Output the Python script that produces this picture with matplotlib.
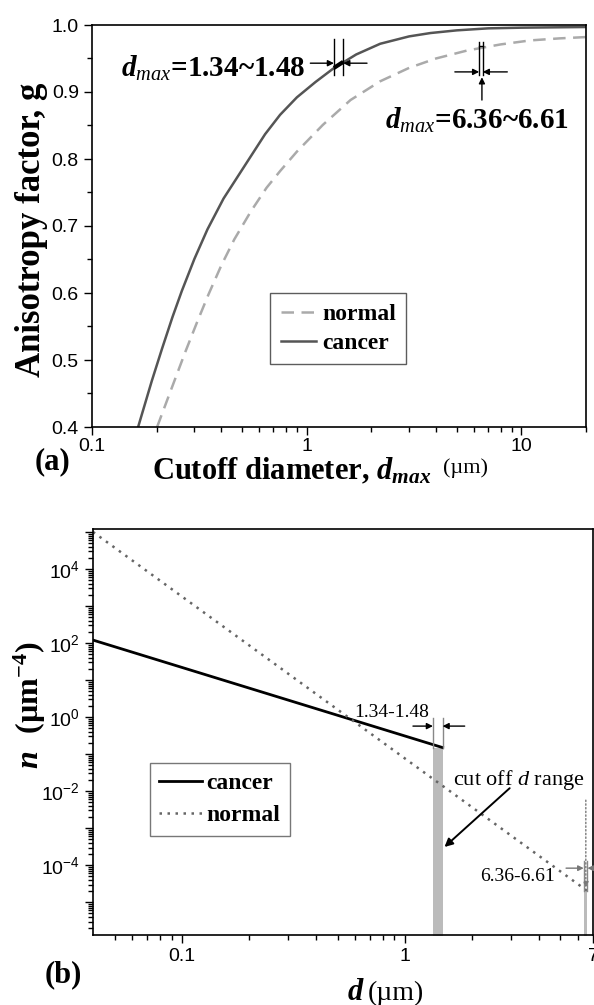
import math
import matplotlib
matplotlib.use('Agg')
import matplotlib.pyplot as plt
from matplotlib.ticker import FixedLocator, MultipleLocator, FuncFormatter, NullFormatter, LogLocator

plt.rcParams['font.family'] = 'Liberation Sans'
plt.rcParams['mathtext.fontset'] = 'custom'
plt.rcParams['mathtext.rm'] = 'Liberation Serif'
plt.rcParams['mathtext.it'] = 'Liberation Serif:italic'
plt.rcParams['mathtext.bf'] = 'Liberation Serif:bold'
plt.rcParams['mathtext.bfit'] = 'Liberation Serif:italic:bold'
plt.rcParams['mathtext.sf'] = 'Liberation Sans'

# (a) anisotropy factor g vs cutoff diameter d_max
cancer_dmax = [0.164, 0.19, 0.212, 0.237, 0.262, 0.30, 0.345, 0.41, 0.534, 0.64, 0.752,
               0.90, 1.10, 1.33, 1.7, 2.2, 3.0, 3.77, 5.0, 7.0, 10, 20]
cancer_g    = [0.40, 0.469, 0.517, 0.564, 0.603, 0.651, 0.695, 0.741, 0.798, 0.837, 0.866,
               0.892, 0.915, 0.935, 0.956, 0.972, 0.983, 0.988, 0.992, 0.995, 0.996, 0.997]
normal_dmax = [0.201, 0.235, 0.272, 0.31, 0.349, 0.40, 0.46, 0.55, 0.65, 0.752, 0.90,
               1.19, 1.6, 2.2, 3.0, 4.0, 5.6, 8.0, 11, 15, 20]
normal_g    = [0.40, 0.458, 0.512, 0.558, 0.598, 0.641, 0.680, 0.722, 0.757, 0.782, 0.811,
               0.851, 0.888, 0.916, 0.936, 0.950, 0.962, 0.971, 0.977, 0.980, 0.982]
cancer_hl_d = [1.34, 1.48]
cancer_hl_g = [0.936, 0.945]

# (b) size distribution n(d), power law -> straight lines on log-log
cancer_d = [0.04, 1.48]
cancer_n = [120, 0.15]
normal_d = [0.04, 6.61]
normal_n = [1.0e5, 2.0e-5]
cancer_cut = [1.34, 1.48]
normal_cut = [6.36, 6.61]

W, H = 594, 1005
fig = plt.figure(figsize=(W / 100, H / 100), dpi=100)


def fx(px):
    return px / W


def fy(py):
    return 1 - py / H


serif = 'Liberation Serif'

# ---------------- panel (a) ----------------
ax1 = fig.add_axes([fx(92), fy(427), fx(586 - 92), (427 - 25) / H])
ax1.plot(normal_dmax, normal_g, color='#aaaaaa', lw=1.8, dashes=(5, 3), label='normal')
ax1.plot(cancer_dmax, cancer_g, color='#555555', lw=1.8, label='cancer')
ax1.plot(cancer_hl_d, cancer_hl_g, color='black', lw=3, solid_capstyle='butt')
ax1.set_xscale('log')
ax1.set_xlim(0.1, 20)
ax1.set_ylim(0.4, 1.0)
ax1.xaxis.set_major_locator(FixedLocator([0.1, 1, 10]))
ax1.xaxis.set_major_formatter(FuncFormatter(lambda v, p: '%g' % v))
ax1.xaxis.set_minor_locator(LogLocator(base=10, subs=range(2, 10)))
ax1.xaxis.set_minor_formatter(NullFormatter())
ax1.yaxis.set_major_locator(MultipleLocator(0.1))
ax1.yaxis.set_minor_locator(MultipleLocator(0.05))
ax1.yaxis.set_major_formatter(FuncFormatter(lambda v, p: '%.1f' % v))

# annotations (a)
ax1.plot([1.34, 1.34], [0.925, 0.979], color='black', lw=1)
ax1.plot([1.48, 1.48], [0.925, 0.979], color='black', lw=1)
ap = dict(arrowstyle='-|>', color='black', lw=1, mutation_scale=9, shrinkA=0, shrinkB=0)
ax1.annotate('', xy=(1.34, 0.943), xytext=(1.04, 0.943), arrowprops=ap)
ax1.annotate('', xy=(1.48, 0.943), xytext=(1.91, 0.943), arrowprops=ap)
ax1.text(0.985, 0.935, r'$\mathbfit{d}_{max}$=1.34~1.48', family=serif, fontweight='bold',
         fontsize=21, ha='right', va='center')

ax1.plot([6.36, 6.36], [0.925, 0.975], color='black', lw=1)
ax1.plot([6.61, 6.61], [0.925, 0.975], color='black', lw=1)
ax1.plot([6.36, 6.61], [0.968, 0.968], color='black', lw=1)
ax1.annotate('', xy=(6.36, 0.93), xytext=(4.9, 0.93), arrowprops=ap)
ax1.annotate('', xy=(6.61, 0.93), xytext=(8.6, 0.93), arrowprops=ap)
ax1.annotate('', xy=(6.55, 0.922), xytext=(6.55, 0.888), arrowprops=ap)
ax1.text(2.32, 0.858, r'$\mathbfit{d}_{max}$=6.36~6.61', family=serif, fontweight='bold',
         fontsize=21, ha='left', va='center')

leg1 = ax1.legend(loc='upper left', bbox_to_anchor=((270 - 92) / 494, (427 - 293) / 402),
                  borderaxespad=0, frameon=True, fancybox=False,
                  prop={'family': serif, 'weight': 'bold', 'size': 17}, handlelength=1.5,
                  handletextpad=0.25, borderpad=0.45, labelspacing=0.3)
leg1.get_frame().set_edgecolor('#333333')
leg1.get_frame().set_linewidth(1)

fig.text(fx(32), fy(230), 'Anisotropy factor, g', family=serif, fontweight='bold', fontsize=25,
         rotation=90, ha='center', va='center')
fig.text(fx(152), fy(479), r'Cutoff diameter, $\mathbfit{d}_{\mathbfit{max}}$', family=serif,
         fontweight='bold', fontsize=22, ha='left', va='baseline')
fig.text(fx(443), fy(473), '(µm)', family=serif, fontsize=16, ha='left', va='baseline')
fig.text(fx(35), fy(462), '(a)', family=serif, fontweight='bold', fontsize=22, ha='left', va='center')

# ---------------- panel (b) ----------------
ax2 = fig.add_axes([fx(93), fy(935), fx(593 - 93), (935 - 529) / H])
ax2.fill_between(cancer_cut, 1e-7, [cancer_n[1], cancer_n[1]], color='#bbbbbb', lw=0)
ax2.fill_between(normal_cut, 1e-7, [normal_n[1], normal_n[1]], color='#bbbbbb', lw=0)
ax2.plot(cancer_d, cancer_n, color='black', lw=2, label='cancer')
ax2.plot(normal_d, normal_n, color='#666666', lw=1.8, ls=(0, (1, 2.2)), label='normal')
ax2.set_xscale('log')
ax2.set_yscale('log')
ax2.set_xlim(0.04, 7)
ax2.set_ylim(1.3e-6, 1.2e5)
ax2.xaxis.set_major_locator(FixedLocator([0.1, 1, 7]))
ax2.xaxis.set_major_formatter(FuncFormatter(lambda v, p: '%g' % v))
ax2.xaxis.set_minor_locator(FixedLocator([0.05, 0.06, 0.07, 0.08, 0.09, 0.2, 0.3, 0.4, 0.5,
                                          0.6, 0.7, 0.8, 0.9, 2, 3, 4, 5, 6]))
ax2.xaxis.set_minor_formatter(NullFormatter())
ax2.yaxis.set_major_locator(LogLocator(base=10, numticks=30))
ax2.yaxis.set_minor_locator(LogLocator(base=10, subs=range(2, 10), numticks=30))
ax2.yaxis.set_minor_formatter(NullFormatter())


def ylab(v, p):
    e = int(round(math.log10(v)))
    if e % 2:
        return ''
    return r'$\mathsf{10^{%d}}$' % e


ax2.yaxis.set_major_formatter(FuncFormatter(ylab))

# annotations (b)
ax2.plot([1.34, 1.34], [0.15, 0.94], color='#888888', lw=1)
ax2.plot([1.48, 1.48], [0.15, 0.94], color='#888888', lw=1)
ax2.annotate('', xy=(1.34, 0.57), xytext=(1.09, 0.57), arrowprops=ap)
ax2.annotate('', xy=(1.48, 0.57), xytext=(1.86, 0.57), arrowprops=ap)
ax2.text(0.874, 1.3, '1.34-1.48', family=serif, fontsize=14, ha='center', va='center')

ax2.annotate('', xy=(1.51, 3.1e-4), xytext=(2.96, 1.2e-2),
             arrowprops=dict(arrowstyle='-|>', color='black', lw=1.4, mutation_scale=12,
                             shrinkA=0, shrinkB=0))
ax2.text(3.25, 0.02, r'cut off $\mathit{d}$ range', family=serif, fontsize=16, ha='center', va='center')

gp = dict(arrowstyle='-|>', color='#777777', lw=1, mutation_scale=8, shrinkA=0, shrinkB=0)
ax2.plot([6.36, 6.36], [2e-5, 1.3e-4], color='#888888', lw=1)
ax2.plot([6.61, 6.61], [2e-5, 1.3e-4], color='#888888', lw=1)
ax2.annotate('', xy=(6.36, 8.3e-5), xytext=(5.3, 8.3e-5), arrowprops=gp)
ax2.annotate('', xy=(6.61, 8.3e-5), xytext=(7.4, 8.3e-5), arrowprops=gp, annotation_clip=False)
ax2.annotate('', xy=(6.5, 2.5e-5), xytext=(6.5, 5.7e-3),
             arrowprops=dict(arrowstyle='-|>', color='#777777', lw=1, ls=':', mutation_scale=8,
                             shrinkA=0, shrinkB=0))
ax2.text(3.2, 4.8e-5, '6.36-6.61', family=serif, fontsize=14, ha='center', va='center')

leg2 = ax2.legend(loc='upper left', bbox_to_anchor=((150 - 93) / 500, (935 - 763) / 406),
                  borderaxespad=0, frameon=True, fancybox=False,
                  prop={'family': serif, 'weight': 'bold', 'size': 17}, handlelength=1.8,
                  handletextpad=0.2, borderpad=0.4, labelspacing=0.45)
leg2.get_frame().set_edgecolor('#555555')
leg2.get_frame().set_linewidth(1)

fig.text(fx(30), fy(705), r'$\mathbfit{n}$  $\mathbf{(µm}^{\mathbf{-4}}\mathbf{)}$', fontsize=23,
         rotation=90, ha='center', va='center')
fig.text(fx(347), fy(1000), r'$\mathbfit{d}$', fontsize=22, ha='left', va='baseline')
fig.text(fx(368), fy(1000), '(µm)', family=serif, fontsize=20, ha='left', va='baseline')
fig.text(fx(45), fy(975), '(b)', family=serif, fontweight='bold', fontsize=22, ha='left', va='center')

for ax in (ax1, ax2):
    for s in ax.spines.values():
        s.set_linewidth(1.2)
    ax.tick_params(which='both', direction='out', top=False, right=False, labelsize=14, width=1)
    ax.tick_params(which='major', length=6)
    ax.tick_params(which='minor', length=3.5)
    ax.set_facecolor('white')
ax1.tick_params(axis='x', which='major', pad=2)

fig.savefig('out.png', dpi=100)
